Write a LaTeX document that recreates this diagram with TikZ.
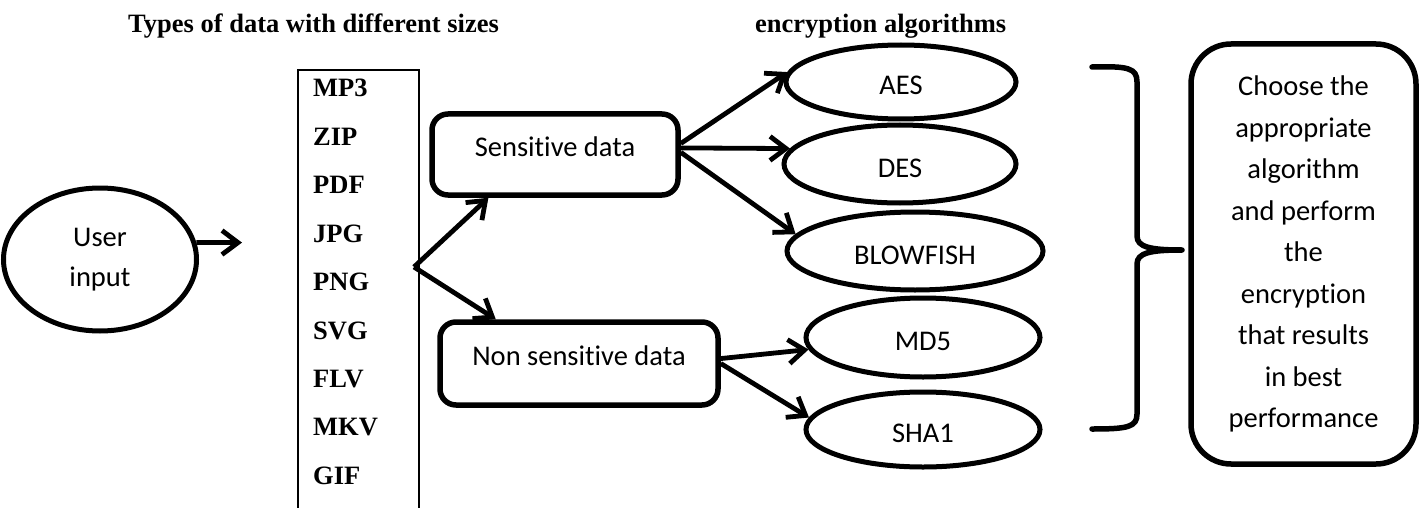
\documentclass[tikz,border=0pt]{standalone}
\usepackage{fontspec}
\setmainfont{Carlito}[Ligatures={NoCommon}]
\newfontfamily\tnr{Liberation Serif}
\usetikzlibrary{arrows.meta,shapes.geometric}
\begin{document}
\begin{tikzpicture}[x=1pt,y=-1pt,
  sansfont/.style={font=\fontsize{28.5}{40}\selectfont},
  titlefont/.style={font=\tnr\bfseries\fontsize{26.5}{30}\selectfont},
  algo/.style={ellipse, draw, line width=5pt, inner sep=0pt, sansfont, text height=26pt, text depth=0pt},
  databox/.style={rectangle, rounded corners=16pt, draw, line width=5.5pt, inner sep=0pt, sansfont, text height=18pt, text depth=14pt},
  flow/.style={line width=4.8pt, -{Straight Barb[length=16pt,width=24pt]}},
  bracestyle/.style={line width=5.5pt, line cap=round, line join=round}
]
\path[use as bounding box] (0,0) rectangle (1421,508);
\fill[white] (0,0) rectangle (1421,508);
\clip (0,0) rectangle (1421,508);

% titles
\node[titlefont, anchor=base west, inner sep=0pt] (title1) at (128,33) {Types of data with different sizes};
\node[titlefont, anchor=base west, inner sep=0pt] (title2) at (755,33) {encryption algorithms};

% user input
\node[ellipse, draw, line width=5pt, minimum width=193pt, minimum height=143pt, inner sep=0pt, sansfont, align=center] (user) at (100,259.5) {User\\input};

% list of data types
\node[draw, line width=2.5pt, minimum width=121pt, minimum height=460pt, inner sep=0pt] (types) at (358.5,300) {};
\foreach \t [count=\i] in {MP3,ZIP,PDF,JPG,PNG,SVG,FLV,MKV,GIF}
  \node[titlefont, anchor=base west, inner sep=0pt] (t\i) at (313,{97+48.4*(\i-1)}) {\t};

% data classes
\node[databox, minimum width=246pt, minimum height=81pt] (sens) at (555,154.5) {Sensitive data};
\node[databox, minimum width=278pt, minimum height=83pt] (nsens) at (579,363.5) {Non sensitive data};

% algorithms
\node[algo, minimum width=230pt, minimum height=74pt] (aes) at (901,82) {AES};
\node[algo, minimum width=232pt, minimum height=78pt] (des) at (900,164) {DES};
\node[algo, minimum width=256pt, minimum height=78pt] (blow) at (915,251) {BLOWFISH};
\node[algo, minimum width=234pt, minimum height=79pt] (md5) at (923,337.5) {MD5};
\node[algo, minimum width=234pt, minimum height=75pt] (sha) at (923,429.5) {SHA1};

% result box
\node[draw, rounded corners=40pt, line width=5.5pt, minimum width=225pt, minimum height=420pt, inner sep=0pt, align=center, font=\fontsize{28.5}{41.5}\selectfont] (choose) at (1303.5,254) {Choose the\\appropriate\\algorithm\\and perform\\the\\encryption\\that results\\in best\\performance};

% connectors
\coordinate (uin) at (242,242.6);
\coordinate (split) at (414,267);
\draw[flow] (user.10) -- (uin);
\draw[flow] (split) -- (sens.213);
\draw[flow] (split) -- (nsens.152);
\draw[flow] (sens.5) -- (aes.175);
\draw[flow] (sens.3) -- (des.172);
\draw[flow] (sens.1) -- (blow.172);
\draw[flow] (nsens.2) -- (md5.186);
\draw[flow] (nsens.0) -- (sha.174);

% brace
\draw[bracestyle] (1092,67) .. controls (1128,66) and (1137,68) .. (1137,82)
  -- (1137,236) .. controls (1137,247) and (1150,250) .. (1182,250)
  .. controls (1150,250) and (1137,253) .. (1137,264)
  -- (1137,414) .. controls (1137,427) and (1128,429) .. (1092,429);
\end{tikzpicture}
\end{document}
